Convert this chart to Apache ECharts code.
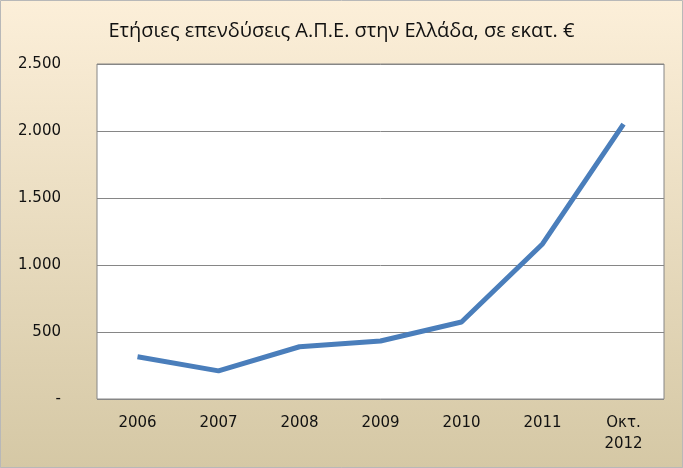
<!DOCTYPE html>
<html><head><meta charset="utf-8">
<script src="https://cdn.jsdelivr.net/npm/echarts@6/dist/echarts.min.js"></script>
<style>html,body{margin:0;padding:0;}#c{width:683px;height:468px;}</style>
</head><body><div id="c"></div>
<script>
const categories = ['2006','2007','2008','2009','2010','2011','Οκτ.\n2012'];
const values = [315, 210, 390, 433, 575, 1157, 2052];
const yTicks = {0:'-',500:'500',1000:'1.000',1500:'1.500',2000:'2.000',2500:'2.500'};
const chart = echarts.init(document.getElementById('c'));
chart.setOption({
  backgroundColor: new echarts.graphic.LinearGradient(0,0,0,1,[{offset:0,color:'#fcefd9'},{offset:1,color:'#d5c8a5'}]),
  title: {text:'Ετήσιες επενδύσεις Α.Π.Ε. στην Ελλάδα, σε εκατ. €', left:'center', top:16,
    textStyle:{fontFamily:'Open Sans', fontWeight:'normal', fontSize:20, color:'#111'}},
  graphic: [{type:'rect', shape:{x:0.5,y:0.5,width:682,height:467}, style:{fill:'none', stroke:'#b8b8b8', lineWidth:1}}],
  grid: {left:97, right:19, top:64, bottom:69, show:true, backgroundColor:'#fff', borderColor:'#868686', borderWidth:1},
  xAxis: {type:'category', data:categories, boundaryGap:true,
    axisLine:{show:false}, axisTick:{show:false},
    axisLabel:{fontFamily:'DejaVu Sans', fontSize:15, color:'#111', margin:14, lineHeight:21}},
  yAxis: {type:'value', min:0, max:2500, interval:500,
    axisLine:{show:false}, axisTick:{show:false},
    splitLine:{lineStyle:{color:'#868686', width:1}},
    axisLabel:{fontFamily:'DejaVu Sans', fontSize:15, color:'#111', margin:36, formatter:v=>yTicks[v]}},
  series: [{type:'line', data:values, symbol:'none', lineStyle:{color:'#4a7ebb', width:5}, itemStyle:{color:'#4a7ebb'}}]
});
</script></body></html>
